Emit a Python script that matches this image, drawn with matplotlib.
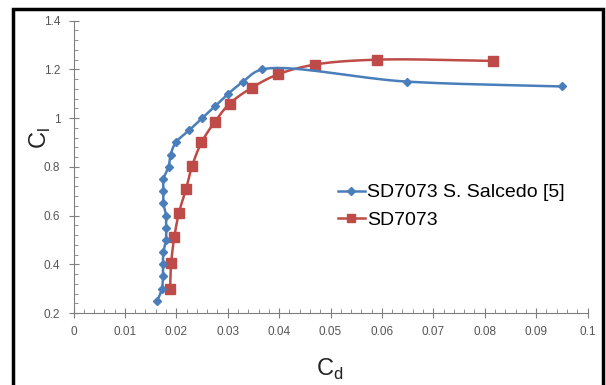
import numpy as np
import matplotlib
matplotlib.use("Agg")
import matplotlib.pyplot as plt
from matplotlib.patches import Rectangle
from matplotlib.ticker import MultipleLocator, FixedLocator
from matplotlib.lines import Line2D

plt.rcParams['font.family'] = ['Liberation Sans', 'DejaVu Sans']
plt.rcParams['mathtext.fontset'] = 'custom'
plt.rcParams['mathtext.rm'] = 'Liberation Sans'

# Data
salcedo_cd = [0.0163, 0.0172, 0.0174, 0.0174, 0.0175, 0.0180, 0.0180, 0.0180, 0.0175,
              0.0175, 0.0175, 0.0185, 0.0189, 0.0199, 0.0225, 0.0250, 0.0276, 0.0301,
              0.0330, 0.0367, 0.0648, 0.0950]
salcedo_cl = [0.25, 0.30, 0.35, 0.40, 0.45, 0.50, 0.55, 0.60, 0.65, 0.70, 0.75, 0.80,
              0.85, 0.90, 0.95, 1.00, 1.05, 1.10, 1.15, 1.20, 1.15, 1.13]
sd_cd = [0.0188, 0.0190, 0.0196, 0.0205, 0.0219, 0.0231, 0.0249, 0.0275, 0.0304,
         0.0347, 0.0398, 0.0470, 0.0590, 0.0817]
sd_cl = [0.30, 0.405, 0.51, 0.61, 0.71, 0.805, 0.90, 0.985, 1.06, 1.125, 1.18,
         1.22, 1.24, 1.235]
x_ticks = [0, 0.01, 0.02, 0.03, 0.04, 0.05, 0.06, 0.07, 0.08, 0.09, 0.1]
x_tick_labels = ['0', '0.01', '0.02', '0.03', '0.04', '0.05', '0.06', '0.07', '0.08', '0.09', '0.1']
y_ticks = [0.2, 0.4, 0.6, 0.8, 1.0, 1.2, 1.4]
y_tick_labels = ['0.2', '0.4', '0.6', '0.8', '1', '1.2', '1.4']
labels = ['SD7073 S. Salcedo [5]', 'SD7073']

BLUE = '#4A7EBB'
RED = '#BE4B48'
GRAY = '#7F7F7F'

XSPAN, YSPAN = 0.1 / 514.0, 1.2 / 292.0  # data units per pixel, for shape-aware smoothing


def smooth(xs, ys, n=20, alpha=0.5):
    """Centripetal Catmull-Rom curve through the points (line rendering only)."""
    P = np.column_stack([np.asarray(xs) / XSPAN, np.asarray(ys) / YSPAN]).astype(float)
    P = np.vstack([P[0] * 2 - P[1], P, P[-1] * 2 - P[-2]])
    out = []
    for i in range(1, len(P) - 2):
        p0, p1, p2, p3 = P[i - 1], P[i], P[i + 1], P[i + 2]
        t0 = 0.0
        t1 = t0 + max(np.linalg.norm(p1 - p0), 1e-6) ** alpha
        t2 = t1 + max(np.linalg.norm(p2 - p1), 1e-6) ** alpha
        t3 = t2 + max(np.linalg.norm(p3 - p2), 1e-6) ** alpha
        t = np.linspace(t1, t2, n, endpoint=False)[:, None]
        A1 = (t1 - t) / (t1 - t0) * p0 + (t - t0) / (t1 - t0) * p1
        A2 = (t2 - t) / (t2 - t1) * p1 + (t - t1) / (t2 - t1) * p2
        A3 = (t3 - t) / (t3 - t2) * p2 + (t - t2) / (t3 - t2) * p3
        B1 = (t2 - t) / (t2 - t0) * A1 + (t - t0) / (t2 - t0) * A2
        B2 = (t3 - t) / (t3 - t1) * A2 + (t - t1) / (t3 - t1) * A3
        C = (t2 - t) / (t2 - t1) * B1 + (t - t1) / (t2 - t1) * B2
        out.append(C)
    out.append(P[-2][None, :])
    out = np.vstack(out)
    return out[:, 0] * XSPAN, out[:, 1] * YSPAN


fig = plt.figure(figsize=(6.06, 3.85), dpi=100)
fig.patch.set_facecolor('white')
ax = fig.add_axes([73.5 / 606, (385 - 313) / 385, (587.5 - 73.5) / 606, (313 - 20.7) / 385])

bx, by = smooth(salcedo_cd, salcedo_cl)
rx, ry = smooth(sd_cd, sd_cl)
ax.plot(rx, ry, color=RED, lw=1.8, zorder=2)
ax.plot(sd_cd, sd_cl, ls='none', marker='s', ms=6.5, color=RED, zorder=3)
ax.plot(bx, by, color=BLUE, lw=1.8, zorder=4)
ax.plot(salcedo_cd, salcedo_cl, ls='none', marker='D', ms=4.5, color=BLUE, zorder=5)

ax.set_xlim(0, 0.1)
ax.set_ylim(0.2, 1.4)
ax.xaxis.set_major_locator(FixedLocator(x_ticks))
ax.set_xticklabels(x_tick_labels)
ax.yaxis.set_major_locator(FixedLocator(y_ticks))
ax.set_yticklabels(y_tick_labels)
ax.xaxis.set_minor_locator(MultipleLocator(0.002))
ax.yaxis.set_minor_locator(MultipleLocator(0.04))

for s in ['top', 'right']:
    ax.spines[s].set_visible(False)
for s in ['left', 'bottom']:
    ax.spines[s].set_color(GRAY)
    ax.spines[s].set_linewidth(0.8)
ax.tick_params(which='major', direction='inout', length=7, width=0.8, color=GRAY,
               labelcolor='#555555', labelsize=8.5)
ax.tick_params(which='minor', direction='in', length=3, width=0.6, color=GRAY)
ax.tick_params(axis='x', which='major', pad=6)
ax.tick_params(axis='y', which='major', pad=6)

fig.text(330 / 606, 1 - 369 / 385, r'$\mathrm{C}_{\mathrm{d}}$', fontsize=17,
         ha='center', va='center', color='#222222')
fig.text(40 / 606, 1 - 138 / 385, r'$\mathrm{C}_{\mathrm{l}}$', fontsize=17,
         ha='center', va='center', rotation=90, color='#222222')

handles = [Line2D([], [], color=BLUE, lw=1.8, marker='D', ms=4),
           Line2D([], [], color=RED, lw=1.8, marker='s', ms=5.5)]
leg = fig.legend(handles, labels, loc='upper left', bbox_to_anchor=(330 / 606, 1 - 176 / 385),
                 frameon=False, fontsize=14, handlelength=1.4, handletextpad=0.1,
                 labelspacing=0.5, borderaxespad=0)

fig.patches.append(Rectangle((12.5 / 606, -0.05), (603 - 12.5) / 606, 1.05 - 8.5 / 385,
                             transform=fig.transFigure, fill=False, lw=2.5,
                             edgecolor='black', zorder=10))

fig.savefig('out.png', dpi=100)
